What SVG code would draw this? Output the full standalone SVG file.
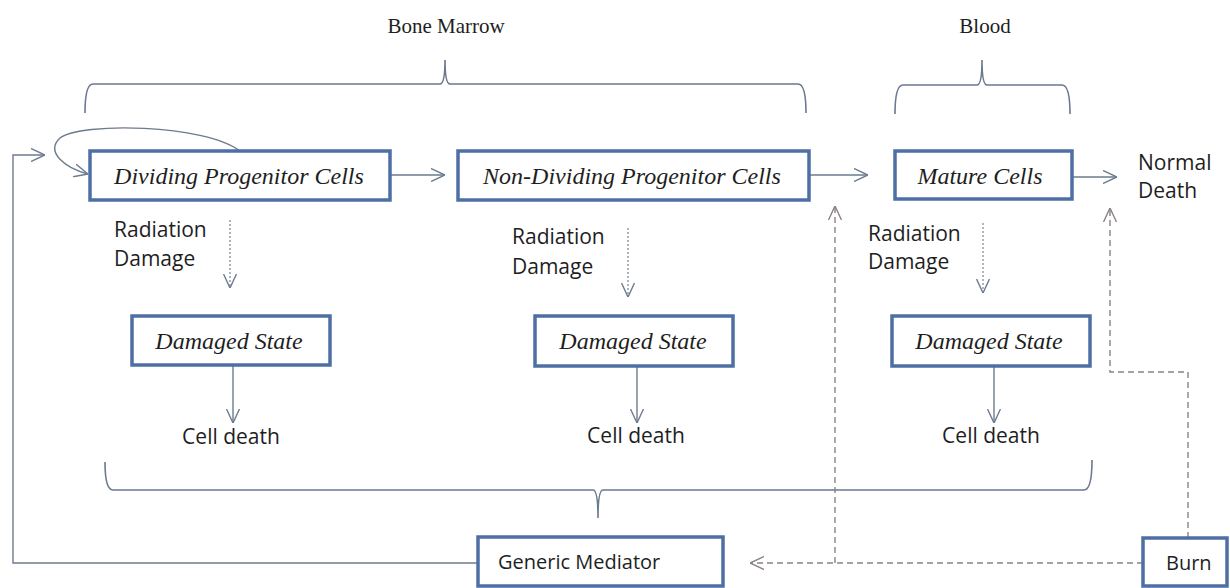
<svg xmlns="http://www.w3.org/2000/svg" width="1230" height="588" viewBox="0 0 1230 588">
<style>
.box{fill:#fff;stroke:#4d6fa4;stroke-width:3.5}
.it{font-family:"Liberation Serif",serif;font-style:italic;font-size:24px;fill:#1e1e1e;text-anchor:middle}
.hd{font-family:"Liberation Serif",serif;font-size:21px;fill:#1e1e1e;text-anchor:middle}
.sn{font-family:"Open Sans","Liberation Sans",sans-serif;font-size:21px;fill:#1e1e1e}
.sm{font-family:"Open Sans","Liberation Sans",sans-serif;font-size:20px;fill:#1e1e1e}
.ln{fill:none;stroke:#6d7b8f;stroke-width:1.4}
.br{fill:none;stroke:#6a7890;stroke-width:1.6}
.dot{fill:none;stroke:#7a8494;stroke-width:1.2;stroke-dasharray:2 2}
.dash{fill:none;stroke:#8a8282;stroke-width:1.4;stroke-dasharray:6 4}
</style>
<defs>
<marker id="ah" viewBox="0 0 14 14" refX="14" refY="7" markerWidth="14" markerHeight="14" markerUnits="userSpaceOnUse" orient="auto">
<path d="M0,0.5 L14,7 L0,13.5" fill="none" stroke="#6d7b8f" stroke-width="1.4"/>
</marker>
<marker id="ahd" viewBox="0 0 14 14" refX="14" refY="7" markerWidth="14" markerHeight="14" markerUnits="userSpaceOnUse" orient="auto">
<path d="M0,0.5 L14,7 L0,13.5" fill="none" stroke="#8a8282" stroke-width="1.4"/>
</marker>
</defs>
<rect width="1230" height="588" fill="#fff"/>

<g id="brackets">
<path class="br" d="M85,113 Q85,84 93,84 L440,84 Q445,84 445,60 Q445,84 450,84 L798,84 Q806,84 806,113"/>
<text class="hd" x="446" y="33">Bone Marrow</text>
<path class="br" d="M895,114 Q895,85 903,85 L977,85 Q982,85 982,60 Q982,85 987,85 L1062,85 Q1070,85 1070,114"/>
<text class="hd" x="985" y="33">Blood</text>
<path class="br" d="M105,462 Q105,490 113,490 L593,490 Q598,490 598,518 Q598,490 603,490 L1084,490 Q1092,490 1092,460"/>
</g>

<g id="connectors">
<path class="ln" d="M240,151 C205,124 80,122 60,138 C45,152 65,168 88,174" marker-end="url(#ah)"/>
<path class="ln" d="M478,563 L13,563 L13,155 L45,155" marker-end="url(#ah)"/>
<path class="ln" d="M390,175 L445,175" marker-end="url(#ah)"/>
<path class="ln" d="M809,175 L868,175" marker-end="url(#ah)"/>
<path class="ln" d="M1072,177 L1117,177" marker-end="url(#ah)"/>
<path class="dot" d="M230,220 L230,288" marker-end="url(#ah)"/>
<path class="dot" d="M628,228 L628,297" marker-end="url(#ah)"/>
<path class="dot" d="M983,223 L983,293" marker-end="url(#ah)"/>
<path class="ln" d="M233,366 L233,423" marker-end="url(#ah)"/>
<path class="ln" d="M637,367 L637,423" marker-end="url(#ah)"/>
<path class="ln" d="M994,367 L994,423" marker-end="url(#ah)"/>
<path class="dash" d="M1143,563 L750,563" marker-end="url(#ahd)"/>
<path class="dash" d="M835,563 L835,206" marker-end="url(#ahd)"/>
<path class="dash" d="M1188,538 L1188,372 L1110,372 L1110,208" marker-end="url(#ahd)"/>
</g>

<g id="dividing">
<rect class="box" x="90" y="151" width="300" height="49"/>
<text class="it" x="239" y="184">Dividing Progenitor Cells</text>
</g>
<g id="nondividing">
<rect class="box" x="458" y="151" width="351" height="49"/>
<text class="it" x="632" y="184">Non-Dividing Progenitor Cells</text>
</g>
<g id="mature">
<rect class="box" x="895" y="151" width="177" height="48"/>
<text class="it" x="980" y="184">Mature Cells</text>
</g>
<g id="normaldeath">
<text class="sn" x="1138" y="170">Normal</text>
<text class="sn" x="1138" y="198">Death</text>
</g>

<g id="rad1">
<text class="sn" x="114" y="237">Radiation</text>
<text class="sn" x="114" y="266">Damage</text>
</g>
<g id="rad2">
<text class="sn" x="512" y="244">Radiation</text>
<text class="sn" x="512" y="274">Damage</text>
</g>
<g id="rad3">
<text class="sn" x="868" y="241">Radiation</text>
<text class="sn" x="868" y="269">Damage</text>
</g>

<g id="damaged1">
<rect class="box" x="132" y="316" width="198" height="49"/>
<text class="it" x="229" y="349">Damaged State</text>
</g>
<g id="damaged2">
<rect class="box" x="535" y="316" width="198" height="50"/>
<text class="it" x="633" y="349">Damaged State</text>
</g>
<g id="damaged3">
<rect class="box" x="892" y="316" width="198" height="50"/>
<text class="it" x="989" y="349">Damaged State</text>
</g>

<g id="death1"><text class="sn" x="231" y="444" text-anchor="middle">Cell death</text></g>
<g id="death2"><text class="sn" x="636" y="443" text-anchor="middle">Cell death</text></g>
<g id="death3"><text class="sn" x="991" y="443" text-anchor="middle">Cell death</text></g>

<g id="mediator">
<rect class="box" x="478" y="537" width="245" height="49"/>
<text class="sm" x="498" y="569">Generic Mediator</text>
</g>
<g id="burn">
<rect class="box" x="1143" y="538" width="84" height="48"/>
<text class="sm" x="1166" y="570">Burn</text>
</g>
</svg>
